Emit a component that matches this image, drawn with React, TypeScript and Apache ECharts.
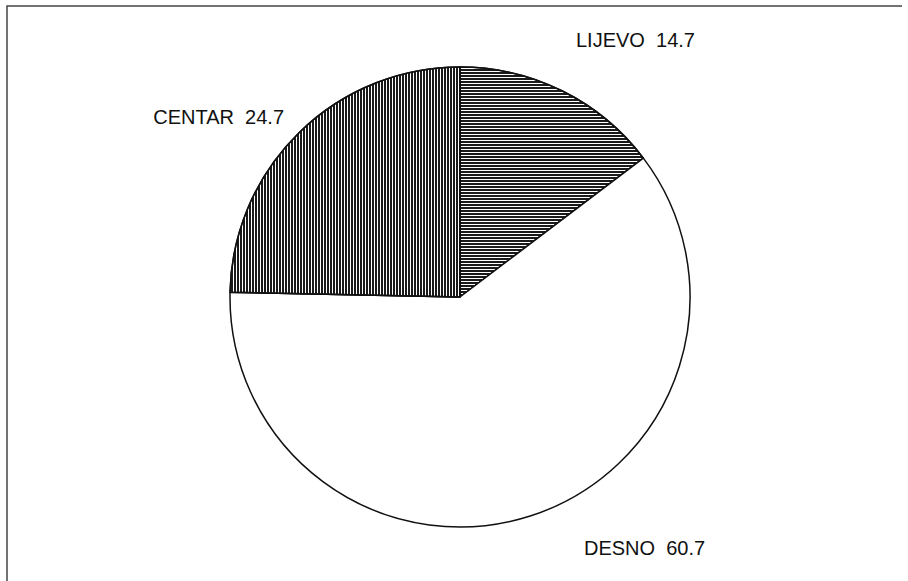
import React, { useEffect, useRef } from "react";
import * as echarts from "echarts";

const categories = ["LIJEVO", "DESNO", "CENTAR"];
const values = [14.7, 60.7, 24.7];

// label anchor positions (layout only)
const labelPos = [
  { x: 576, y: 40, align: "left" },
  { x: 584, y: 548, align: "left" },
  { x: 284, y: 117, align: "right" },
];

const hatchH = {
  symbol: "rect",
  symbolSize: 1,
  color: "#1a1a1a",
  backgroundColor: "#fff",
  dashArrayX: [1, 0],
  dashArrayY: [2, 1],
};
const hatchV = {
  symbol: "rect",
  symbolSize: 1,
  color: "#1a1a1a",
  backgroundColor: "#fff",
  dashArrayX: [2, 1],
  dashArrayY: [1, 0],
};

export default function App() {
  const ref = useRef<HTMLDivElement>(null);
  useEffect(() => {
    document.body.style.margin = "0";
    const chart = echarts.init(ref.current!, null, { renderer: "svg" });
    const decals = [hatchH, null, hatchV];
    chart.setOption({
      animation: false,
      backgroundColor: "#fff",
      graphic: [
        {
          type: "polyline",
          shape: { points: [[7, 581], [7, 6], [902, 6]] },
          style: { stroke: "#444", lineWidth: 1.5, fill: "none" },
          silent: true,
        },
      ],
      series: [
        {
          type: "pie",
          center: [460, 297],
          radius: 230,
          startAngle: 90,
          clockwise: true,
          avoidLabelOverlap: false,
          emphasis: { disabled: true },
          label: {
            show: true,
            position: "outside",
            formatter: (p: any) => `${p.name}  ${p.value.toFixed(1)}`,
            fontFamily: "Liberation Sans, Arial, sans-serif",
            fontSize: 20,
            color: "#111",
          },
          labelLine: { show: false },
          labelLayout: (params: any) => {
            const lp = labelPos[params.dataIndex];
            return { x: lp.x, y: lp.y, align: lp.align, verticalAlign: "middle" };
          },
          itemStyle: { borderColor: "#111", borderWidth: 1.5 },
          data: categories.map((name, i) => ({
            name,
            value: values[i],
            itemStyle: {
              color: "#fff",
              ...(decals[i] ? { decal: decals[i] } : {}),
            },
          })),
        },
      ],
    });
    return () => chart.dispose();
  }, []);
  return (
    <div
      ref={ref}
      style={{ position: "absolute", left: 0, top: 0, width: 908, height: 581 }}
    />
  );
}
